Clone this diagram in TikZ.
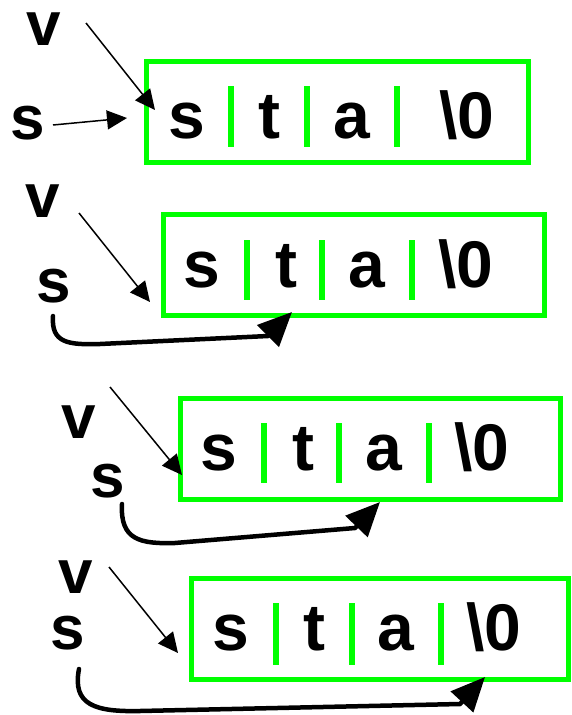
\documentclass[tikz,border=0pt]{standalone}
\usepackage{fontspec}
\setmainfont{Liberation Sans}
\usetikzlibrary{arrows.meta}
\definecolor{lgreen}{RGB}{0,255,0}
\begin{document}
\begin{tikzpicture}[x=1pt,y=-1pt,
  cell/.style={font=\fontsize{66}{66}\selectfont\bfseries, anchor=base, inner sep=0pt},
  lab/.style={font=\fontsize{62}{62}\selectfont\bfseries, anchor=base, inner sep=0pt, text height=34pt, text depth=0pt},
  strbox/.style={draw=lgreen, line width=5pt, inner sep=0pt, minimum height=101pt},
  sepline/.style={draw=lgreen, line width=6pt},
  thinarrow/.style={draw=black, line width=1.5pt, -{Triangle[length=20pt,width=19pt]}},
  thickarrow/.style={draw=black, line width=4.5pt, line cap=round, -{Triangle[length=34pt,width=30pt]}}]
\useasboundingbox (0,0) rectangle (572,715);

% ---------- row 1 ----------
\node[strbox, minimum width=382pt] (b1) at (337.5,111.5) {};
\node[cell] (b1s) at (187,138) {s};
\node[cell] (b1t) at (269,138) {t};
\node[cell] (b1a) at (352,138) {a};
\node[cell] (b1z) at (467,138) {\textbackslash 0};
\draw[sepline] (231,86) -- (231,147);
\draw[sepline] (307,86) -- (307,147);
\draw[sepline] (397,86) -- (397,147);
\node[lab] (v1) at (44,45) {v};
\node[lab] (s1) at (28,139) {s};
\coordinate (v1a) at (86,23);
\coordinate (v1b) at (155,110);
\coordinate (s1a) at (53,125);
\coordinate (s1b) at (127,118);
\draw[thinarrow] (v1a) -- (v1b);
\draw[thinarrow] (s1a) -- (s1b);

% ---------- row 2 ----------
\node[strbox, minimum width=381pt] (b2) at (354,265) {};
\node[cell] (b2s) at (202,287) {s};
\node[cell] (b2t) at (286,287) {t};
\node[cell] (b2a) at (367,287) {a};
\node[cell] (b2z) at (466,287) {\textbackslash 0};
\draw[sepline] (247,240) -- (247,300);
\draw[sepline] (322,240) -- (322,300);
\draw[sepline] (412,240) -- (412,300);
\node[lab] (v2) at (43,217) {v};
\node[lab] (s2) at (54,302) {s};
\coordinate (v2a) at (79,213);
\coordinate (v2b) at (150,302);
\coordinate (s2a) at (53,316);
\coordinate (s2b) at (292,312);
\draw[thinarrow] (v2a) -- (v2b);
\draw[thickarrow] (s2a) .. controls (51,343) and (68,345) .. (100,344) -- (268,336) -- (s2b);

% ---------- row 3 ----------
\node[strbox, minimum width=380pt] (b3) at (370.5,448.5) {};
\node[cell] (b3s) at (219,470) {s};
\node[cell] (b3t) at (303,470) {t};
\node[cell] (b3a) at (384,470) {a};
\node[cell] (b3z) at (482,470) {\textbackslash 0};
\draw[sepline] (264,423) -- (264,483);
\draw[sepline] (339,423) -- (339,483);
\draw[sepline] (429,423) -- (429,483);
\node[lab] (v3) at (79,438) {v};
\node[lab] (s3) at (108,497) {s};
\coordinate (v3a) at (110,387);
\coordinate (v3b) at (182,475);
\coordinate (s3a) at (122,504);
\coordinate (s3b) at (380,502);
\draw[thinarrow] (v3a) -- (v3b);
\draw[thickarrow] (s3a) .. controls (120,540) and (140,544) .. (175,543) -- (355,528) -- (s3b);

% ---------- row 4 ----------
\node[strbox, minimum width=377pt] (b4) at (380,629) {};
\node[cell] (b4s) at (231,650) {s};
\node[cell] (b4t) at (314,650) {t};
\node[cell] (b4a) at (396,650) {a};
\node[cell] (b4z) at (494,650) {\textbackslash 0};
\draw[sepline] (276,603) -- (276,665);
\draw[sepline] (352,603) -- (352,665);
\draw[sepline] (441,603) -- (441,665);
\node[lab] (v4) at (76,593) {v};
\node[lab] (s4) at (68,649) {s};
\coordinate (v4a) at (109,567);
\coordinate (v4b) at (178,653);
\coordinate (s4a) at (79,669);
\coordinate (s4b) at (485,677);
\draw[thinarrow] (v4a) -- (v4b);
\draw[thickarrow] (s4a) .. controls (72,705) and (95,712) .. (140,711) -- (460,704) -- (s4b);
\end{tikzpicture}
\end{document}
